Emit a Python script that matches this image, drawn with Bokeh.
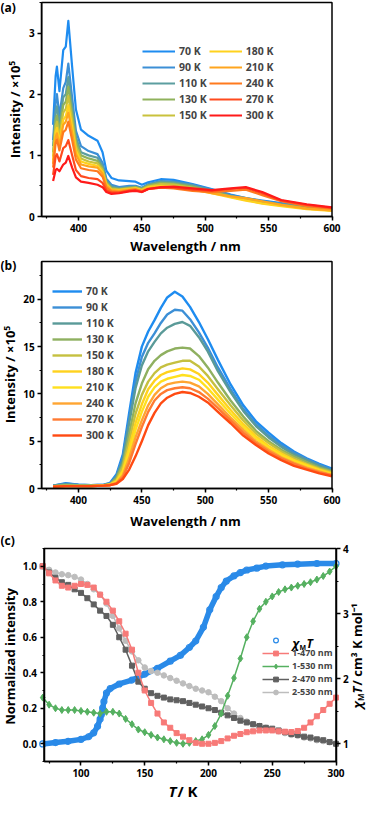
import math
from bokeh.plotting import figure
from bokeh.models import (Legend, LegendItem, Label, LinearAxis, Range1d, BoxAnnotation,
                          SingleIntervalTicker, PrintfTickFormatter)
from bokeh.layouts import column
from bokeh.embed import file_html
from bokeh.resources import INLINE

FONT = "Open Sans"

# ---------------- panel (a) data ----------------
temps = ["70 K", "90 K", "110 K", "130 K", "150 K", "180 K", "210 K", "240 K", "270 K", "300 K"]
wl_a = [380, 382, 383, 385, 388, 390, 392, 395, 398, 402, 408, 415, 419, 422, 426,
        432, 440, 445, 450, 455, 465, 475, 490, 505, 520, 532, 545, 560, 580, 600]
a_70 = [1.5, 2.3, 2.45, 2.05, 2.72, 2.78, 3.2, 2.45, 1.75, 1.42, 1.32, 1.24, 1.05, 0.75, 0.63,
        0.59, 0.58, 0.57, 0.52, 0.56, 0.61, 0.6, 0.53, 0.45, 0.36, 0.3, 0.26, 0.22, 0.16, 0.11]
a_90 = [1.25, 1.85, 2.0, 1.65, 2.1, 2.2, 2.5, 1.95, 1.4, 1.15, 1.07, 1.02, 0.88, 0.62, 0.52,
        0.48, 0.5, 0.5, 0.47, 0.53, 0.58, 0.57, 0.52, 0.44, 0.35, 0.3, 0.25, 0.21, 0.15, 0.11]
a_110 = [1.15, 1.7, 1.8, 1.5, 1.95, 2.0, 2.28, 1.8, 1.3, 1.05, 1.0, 0.96, 0.83, 0.58, 0.49,
         0.46, 0.48, 0.49, 0.46, 0.52, 0.57, 0.56, 0.51, 0.43, 0.34, 0.29, 0.24, 0.2, 0.15, 0.11]
a_130 = [1.05, 1.58, 1.65, 1.4, 1.82, 1.88, 2.12, 1.68, 1.22, 1.0, 0.95, 0.91, 0.79, 0.56, 0.47,
         0.45, 0.47, 0.48, 0.45, 0.51, 0.55, 0.54, 0.49, 0.41, 0.33, 0.28, 0.23, 0.19, 0.14, 0.1]
a_150 = [0.98, 1.48, 1.55, 1.3, 1.7, 1.76, 1.97, 1.57, 1.15, 0.95, 0.9, 0.87, 0.76, 0.54, 0.45,
         0.44, 0.46, 0.47, 0.44, 0.49, 0.53, 0.52, 0.47, 0.4, 0.32, 0.27, 0.22, 0.18, 0.13, 0.1]
a_180 = [0.92, 1.38, 1.45, 1.22, 1.58, 1.64, 1.82, 1.46, 1.08, 0.9, 0.86, 0.83, 0.73, 0.52, 0.44,
         0.43, 0.45, 0.46, 0.43, 0.48, 0.5, 0.49, 0.45, 0.38, 0.31, 0.26, 0.21, 0.17, 0.12, 0.09]
a_210 = [0.86, 1.3, 1.36, 1.16, 1.5, 1.55, 1.7, 1.37, 1.02, 0.85, 0.82, 0.8, 0.7, 0.5, 0.43,
         0.42, 0.44, 0.45, 0.42, 0.46, 0.48, 0.47, 0.44, 0.38, 0.33, 0.3, 0.25, 0.19, 0.13, 0.1]
a_240 = [0.8, 1.2, 1.26, 1.08, 1.38, 1.42, 1.55, 1.25, 0.93, 0.79, 0.76, 0.74, 0.65, 0.47, 0.41,
         0.4, 0.43, 0.44, 0.41, 0.45, 0.47, 0.46, 0.42, 0.4, 0.42, 0.44, 0.35, 0.25, 0.17, 0.13]
a_270 = [0.68, 0.98, 1.02, 0.9, 1.12, 1.15, 1.25, 1.0, 0.76, 0.66, 0.63, 0.61, 0.55, 0.43, 0.39,
         0.39, 0.42, 0.43, 0.4, 0.45, 0.47, 0.47, 0.44, 0.42, 0.45, 0.47, 0.38, 0.26, 0.19, 0.14]
a_300 = [0.58, 0.76, 0.78, 0.74, 0.85, 0.88, 0.99, 0.8, 0.64, 0.57, 0.55, 0.52, 0.48, 0.4, 0.37,
         0.38, 0.41, 0.42, 0.4, 0.45, 0.48, 0.49, 0.46, 0.43, 0.46, 0.48, 0.4, 0.27, 0.2, 0.15]
series_a = [a_70, a_90, a_110, a_130, a_150, a_180, a_210, a_240, a_270, a_300]
colors_a = ["#1e8cf0", "#3c8fd6", "#5c9ea0", "#8fb25c", "#c9c23c",
            "#ffd21e", "#ffa51e", "#ff7a1e", "#ff4a1e", "#ff1a1a"]

# ---------------- panel (b) data ----------------
wl_b = [380, 390, 400, 410, 420, 425, 430, 435, 440, 445, 450, 455, 460, 465, 470,
        476, 482, 488, 495, 502, 510, 520, 530, 540, 550, 560, 570, 580, 590, 600]
b_70 = [0.3, 0.55, 0.4, 0.35, 0.4, 0.6, 1.5, 3.6, 8.0, 12.2, 15.0, 16.6, 17.8, 19.1, 20.2,
        20.8, 20.3, 19.2, 17.6, 15.8, 13.6, 11.0, 8.8, 7.1, 5.9, 4.8, 3.9, 3.2, 2.6, 2.1]
b_90 = [0.3, 0.5, 0.4, 0.35, 0.4, 0.55, 1.35, 3.3, 7.4, 11.3, 13.9, 15.4, 16.4, 17.5, 18.4,
        18.9, 18.8, 17.9, 16.5, 14.9, 12.8, 10.5, 8.4, 6.8, 5.6, 4.6, 3.8, 3.1, 2.5, 2.0]
b_110 = [0.3, 0.45, 0.35, 0.3, 0.35, 0.5, 1.25, 3.0, 6.9, 10.6, 13.0, 14.5, 15.5, 16.4, 17.0,
         17.4, 17.6, 17.2, 16.0, 14.5, 12.4, 10.2, 8.2, 6.6, 5.4, 4.4, 3.6, 3.0, 2.4, 1.9]
b_130 = [0.25, 0.35, 0.3, 0.3, 0.35, 0.45, 1.1, 2.6, 5.8, 9.0, 11.1, 12.6, 13.5, 14.1, 14.5,
         14.8, 14.9, 14.8, 14.0, 12.8, 11.2, 9.3, 7.6, 6.1, 5.0, 4.1, 3.4, 2.8, 2.2, 1.8]
b_150 = [0.25, 0.3, 0.3, 0.3, 0.35, 0.45, 0.9, 2.3, 5.0, 7.9, 9.9, 11.3, 12.2, 12.8, 13.1,
         13.3, 13.5, 13.5, 12.9, 11.9, 10.5, 8.8, 7.2, 5.8, 4.8, 3.9, 3.2, 2.6, 2.1, 1.7]
b_180 = [0.2, 0.25, 0.25, 0.25, 0.3, 0.4, 0.8, 1.9, 4.3, 6.9, 8.9, 10.5, 11.4, 12.0, 12.3,
         12.5, 12.7, 12.6, 12.1, 11.2, 9.9, 8.3, 6.8, 5.5, 4.5, 3.7, 3.0, 2.5, 2.0, 1.6]
b_210 = [0.2, 0.25, 0.25, 0.25, 0.3, 0.4, 0.7, 1.7, 3.8, 6.2, 8.1, 9.7, 10.7, 11.3, 11.6,
         11.8, 12.0, 11.9, 11.5, 10.6, 9.4, 7.9, 6.5, 5.3, 4.3, 3.5, 2.9, 2.4, 1.9, 1.5]
b_240 = [0.2, 0.25, 0.25, 0.25, 0.3, 0.4, 0.6, 1.4, 3.2, 5.4, 7.2, 8.8, 9.9, 10.6, 11.0,
         11.2, 11.3, 11.2, 10.8, 10.0, 8.9, 7.5, 6.2, 5.0, 4.1, 3.3, 2.7, 2.2, 1.8, 1.4]
b_270 = [0.2, 0.25, 0.25, 0.25, 0.3, 0.35, 0.55, 1.2, 2.7, 4.7, 6.5, 8.1, 9.3, 10.0, 10.4,
         10.6, 10.7, 10.6, 10.2, 9.5, 8.5, 7.2, 5.9, 4.8, 3.9, 3.2, 2.6, 2.1, 1.7, 1.4]
b_300 = [0.2, 0.25, 0.25, 0.25, 0.3, 0.35, 0.5, 1.0, 2.0, 3.4, 5.0, 6.7, 8.0, 9.0, 9.6,
         10.0, 10.2, 10.1, 9.7, 9.1, 8.1, 6.9, 5.6, 4.6, 3.7, 3.0, 2.4, 2.0, 1.6, 1.3]
series_b = [b_70, b_90, b_110, b_130, b_150, b_180, b_210, b_240, b_270, b_300]
colors_b = ["#1e8cf0", "#3c8fd6", "#5a9a98", "#8fb060", "#c5c040",
            "#ffd21e", "#ffe01e", "#ffa532", "#ff7a32", "#ff4a12"]

# ---------------- panel (c) data ----------------
T_chi = [70, 80, 90, 100, 106, 110, 113, 115, 116, 117, 118, 120, 123, 130, 140, 150, 160,
         170, 178, 185, 190, 196, 201, 206, 210, 214, 220, 225, 230, 238, 245, 258, 270, 285, 300]
chi_T = [1.0, 1.02, 1.04, 1.07, 1.11, 1.17, 1.27, 1.38, 1.45, 1.55, 1.65, 1.78, 1.85, 1.92,
         1.98, 2.07, 2.16, 2.27, 2.36, 2.48, 2.58, 2.79, 3.06, 3.26, 3.4, 3.5, 3.58, 3.63,
         3.67, 3.7, 3.73, 3.75, 3.76, 3.77, 3.77]
T_c = [70, 75, 80, 85, 90, 95, 100, 105, 110, 115, 120, 125, 130, 135, 140, 145, 150, 155,
       160, 165, 170, 175, 180, 185, 190, 195, 200, 205, 210, 215, 220, 225, 230, 235, 240,
       245, 250, 255, 260, 265, 270, 275, 280, 285, 290, 295, 300]
c_1_470 = [1.0, 0.96, 0.92, 0.89, 0.88, 0.89, 0.9, 0.895, 0.88, 0.84, 0.8, 0.75, 0.69, 0.62,
           0.53, 0.40, 0.30, 0.23, 0.17, 0.12, 0.09, 0.06, 0.04, 0.02, 0.005, 0.0, 0.0, 0.005,
           0.015, 0.03, 0.045, 0.055, 0.065, 0.07, 0.075, 0.075, 0.075, 0.07, 0.068, 0.066,
           0.072, 0.09, 0.12, 0.155, 0.19, 0.225, 0.26]
c_1_530 = [0.26, 0.22, 0.2, 0.19, 0.19, 0.19, 0.185, 0.18, 0.175, 0.17, 0.18, 0.18, 0.17, 0.14,
           0.11, 0.08, 0.065, 0.05, 0.035, 0.025, 0.015, 0.005, 0.0, 0.005, 0.015, 0.025, 0.05,
           0.1, 0.17, 0.27, 0.37, 0.48, 0.6, 0.69, 0.76, 0.8, 0.83, 0.855, 0.87, 0.88, 0.89,
           0.9, 0.91, 0.925, 0.945, 0.97, 1.0]
c_2_470 = [1.0, 0.965, 0.935, 0.91, 0.895, 0.87, 0.85, 0.82, 0.785, 0.75, 0.72, 0.67, 0.6,
           0.53, 0.44, 0.35, 0.31, 0.285, 0.27, 0.26, 0.25, 0.245, 0.24, 0.23, 0.22, 0.21, 0.2,
           0.19, 0.175, 0.16, 0.145, 0.13, 0.12, 0.11, 0.1, 0.09, 0.085, 0.075, 0.065, 0.055,
           0.05, 0.04, 0.035, 0.025, 0.02, 0.01, 0.0]
c_2_530 = [1.0, 0.98, 0.965, 0.955, 0.95, 0.94, 0.925, 0.9, 0.87, 0.84, 0.79, 0.72, 0.65, 0.58,
           0.52, 0.47, 0.43, 0.41, 0.4, 0.385, 0.37, 0.355, 0.34, 0.325, 0.31, 0.3, 0.29, 0.265,
           0.24, 0.2, 0.17, 0.145, 0.125, 0.11, 0.1, 0.09, 0.08, 0.07, 0.06, 0.05, 0.045, 0.035,
           0.03, 0.02, 0.015, 0.008, 0.0]
c_labels = ["1-470 nm", "1-530 nm", "2-470 nm", "2-530 nm"]

W = 368


def ext(d0, d1, p0, p1, total):
    """Range such that d0 sits at pixel p0 and d1 at pixel p1 of a canvas of size total."""
    s = (p1 - p0) / (d1 - d0)
    return Range1d(d0 - p0 / s, d1 + (total - p1) / s)


def mkfig(h, xr, yr):
    p = figure(width=W, height=h, x_range=xr, y_range=yr, output_backend="svg",
               toolbar_location=None, min_border=0, min_border_left=0, min_border_right=0,
               min_border_top=0, min_border_bottom=0)
    p.xgrid.visible = False
    p.ygrid.visible = False
    p.outline_line_color = None
    return p


def style_axis(ax):
    ax.axis_line_width = 1.5
    ax.axis_line_color = "black"
    ax.major_tick_line_width = 1.5
    ax.minor_tick_line_width = 1.2
    ax.major_tick_in = 0
    ax.major_tick_out = 4
    ax.minor_tick_in = 0
    ax.minor_tick_out = 2
    ax.major_label_text_font = FONT
    ax.major_label_text_font_style = "bold"
    ax.major_label_text_font_size = "10px"
    ax.major_label_text_color = "black"
    ax.major_label_standoff = 3
    ax.axis_label = None


def box(p, l, r, b, t):
    p.add_layout(BoxAnnotation(left=l, right=r, bottom=b, top=t, fill_alpha=0,
                               line_color="black", line_alpha=1, line_width=1.5))


def lab(p, x, y, text, size, style="bold", angle=0.0, align="left"):
    p.add_layout(Label(x=x, y=y, x_units="screen", y_units="screen", text=text,
                       text_font=FONT, text_font_size=size, text_font_style=style,
                       angle=angle, text_align=align, text_baseline="middle",
                       text_color="black"))


def leg(items, loc, glyph_w, ncols=1, size="10.5px", spacing=2, standoff=4):
    return Legend(items=items, location=loc, glyph_width=glyph_w, glyph_height=12,
                  label_height=12, spacing=spacing, padding=0, margin=0,
                  label_standoff=standoff, label_text_font=FONT,
                  label_text_font_style="bold", label_text_font_size=size,
                  background_fill_alpha=0, border_line_alpha=0, ncols=ncols)


ROT = math.pi / 2

# ---------------- figure (a) ----------------
HA = 254
xa0, xa1, ya0, ya1 = 371, 600, 0, 3.5
pa = mkfig(HA, ext(xa0, xa1, 41.2, 331.5, W), ext(ya0, ya1, HA - 216, HA - 2, HA))
style_axis(pa.xaxis[0])
style_axis(pa.yaxis[0])
pa.xaxis.fixed_location = ya0
pa.xaxis.bounds = (xa0, xa1)
pa.yaxis.fixed_location = xa0
pa.yaxis.bounds = (ya0, ya1)
pa.xaxis.ticker = SingleIntervalTicker(interval=50, num_minor_ticks=2)
pa.yaxis.ticker = SingleIntervalTicker(interval=1, num_minor_ticks=2)
box(pa, xa0, xa1, ya0, ya1)
items_a = []
for name, ys, col in zip(temps, series_a, colors_a):
    r = pa.line(wl_a, ys, line_color=col, line_width=2.2, line_join="round")
    items_a.append(LegendItem(label=name, renderers=[r]))
pa.add_layout(leg(items_a, (142, 132), 33, ncols=2))
lab(pa, 0, HA - 7, "(a)", "12px")
lab(pa, 14, HA - 109, "Intensity / ×10⁵", "13px", angle=ROT, align="center")
lab(pa, 185, 9, "Wavelength / nm", "13px", align="center")

# ---------------- figure (b) ----------------
HB = 274
xb0, xb1, yb0, yb1 = 371, 600, 0, 24
pb = mkfig(HB, ext(xb0, xb1, 41.2, 331.5, W), ext(yb0, yb1, HB - 234, HB - 7, HB))
style_axis(pb.xaxis[0])
style_axis(pb.yaxis[0])
pb.xaxis.fixed_location = yb0
pb.xaxis.bounds = (xb0, xb1)
pb.yaxis.fixed_location = xb0
pb.yaxis.bounds = (yb0, yb1)
pb.xaxis.ticker = SingleIntervalTicker(interval=50, num_minor_ticks=2)
pb.yaxis.ticker = SingleIntervalTicker(interval=5, num_minor_ticks=2)
box(pb, xb0, xb1, yb0, yb1)
items_b = []
for name, ys, col in zip(temps, series_b, colors_b):
    r = pb.line(wl_b, ys, line_color=col, line_width=2.4, line_join="round")
    items_b.append(LegendItem(label=name, renderers=[r]))
pb.add_layout(leg(items_b, (52, 86), 30))
lab(pb, 0, HB - 11, "(b)", "12px")
lab(pb, 9, HB - 120, "Intensity / ×10⁵", "13px", angle=ROT, align="center")
lab(pb, 185, 8, "Wavelength / nm", "13px", align="center")

# ---------------- figure (c) ----------------
HC = 272
xc0, xc1, yc0, yc1 = 71, 300, -0.1, 1.1
rc0, rc1 = 0.73, 4.0
pc = mkfig(HC, ext(xc0, xc1, 43.5, 335.5, W), ext(yc0, yc1, HC - 233, HC - 20, HC))
pc.extra_y_ranges = {"chi": ext(rc0, rc1, HC - 233, HC - 20, HC)}
style_axis(pc.xaxis[0])
style_axis(pc.yaxis[0])
pc.xaxis.fixed_location = yc0
pc.xaxis.bounds = (xc0, xc1)
pc.yaxis.fixed_location = xc0
pc.yaxis.bounds = (yc0, yc1)
pc.xaxis.ticker = SingleIntervalTicker(interval=50, num_minor_ticks=2)
pc.yaxis.ticker = SingleIntervalTicker(interval=0.2, num_minor_ticks=2)
pc.yaxis.formatter = PrintfTickFormatter(format="%.1f")
ax_r = LinearAxis(y_range_name="chi", fixed_location=xc1, bounds=(rc0, rc1),
                  ticker=SingleIntervalTicker(interval=1, num_minor_ticks=2))
style_axis(ax_r)
pc.add_layout(ax_r, "right")
box(pc, xc0, xc1, yc0, yc1)

blue = "#2a8ae8"
pc.line(T_chi, chi_T, y_range_name="chi", line_color=blue, line_width=5.5, line_join="round")
r_chi = pc.scatter(T_chi, chi_T, y_range_name="chi", marker="circle", size=6,
                   line_color=blue, fill_color="white", fill_alpha=0, line_width=1.2)

c_series = [c_2_530, c_2_470, c_1_530, c_1_470]
c_cols = ["#bdbdbd", "#606060", "#55b060", "#f77a78"]
c_marks = ["circle", "square", "diamond", "square"]
c_sizes = [5.5, 5, 7, 5]
c_names = ["2-530 nm", "2-470 nm", "1-530 nm", "1-470 nm"]
rend = {}
for ys, col, mk, sz, nm in zip(c_series, c_cols, c_marks, c_sizes, c_names):
    rl = pc.line(T_c, ys, line_color=col, line_width=1.5)
    rs = pc.scatter(T_c, ys, marker=mk, size=sz, line_color=col, fill_color=col)
    rend[nm] = [rl, rs]

items_c = [LegendItem(label=" ", renderers=[r_chi])]
for nm in c_labels:
    items_c.append(LegendItem(label=nm, renderers=rend[nm]))
pc.add_layout(leg(items_c, (262, 102), 27, size="9px", spacing=0, standoff=3))

# chi_M T legend label
lab(pc, 292, 157, "χ", "12px", style="bold italic")
lab(pc, 299, 153, "M", "7px")
lab(pc, 306, 157, "T", "12px", style="bold italic")

lab(pc, 0, HC - 12, "(c)", "12px")
lab(pc, 9, HC - 128, "Normalizad intensity", "13px", angle=ROT, align="center")
lab(pc, 168, 10, "T", "15px", style="bold italic")
lab(pc, 177, 10, " / K", "15px")

# right axis label  chi_M T / cm3 K mol-1 (reads bottom to top)
lab(pc, 356, 92, "χ", "13px", style="bold italic", angle=ROT)
lab(pc, 360, 99.5, "M", "8px", angle=ROT)
lab(pc, 356, 107, "T", "13px", style="bold italic", angle=ROT)
lab(pc, 356, 115, " / cm³ K mol⁻¹", "13px", angle=ROT)

layout = column(pa, pb, pc, spacing=0)
open("out.html", "w").write(file_html(layout, INLINE))
